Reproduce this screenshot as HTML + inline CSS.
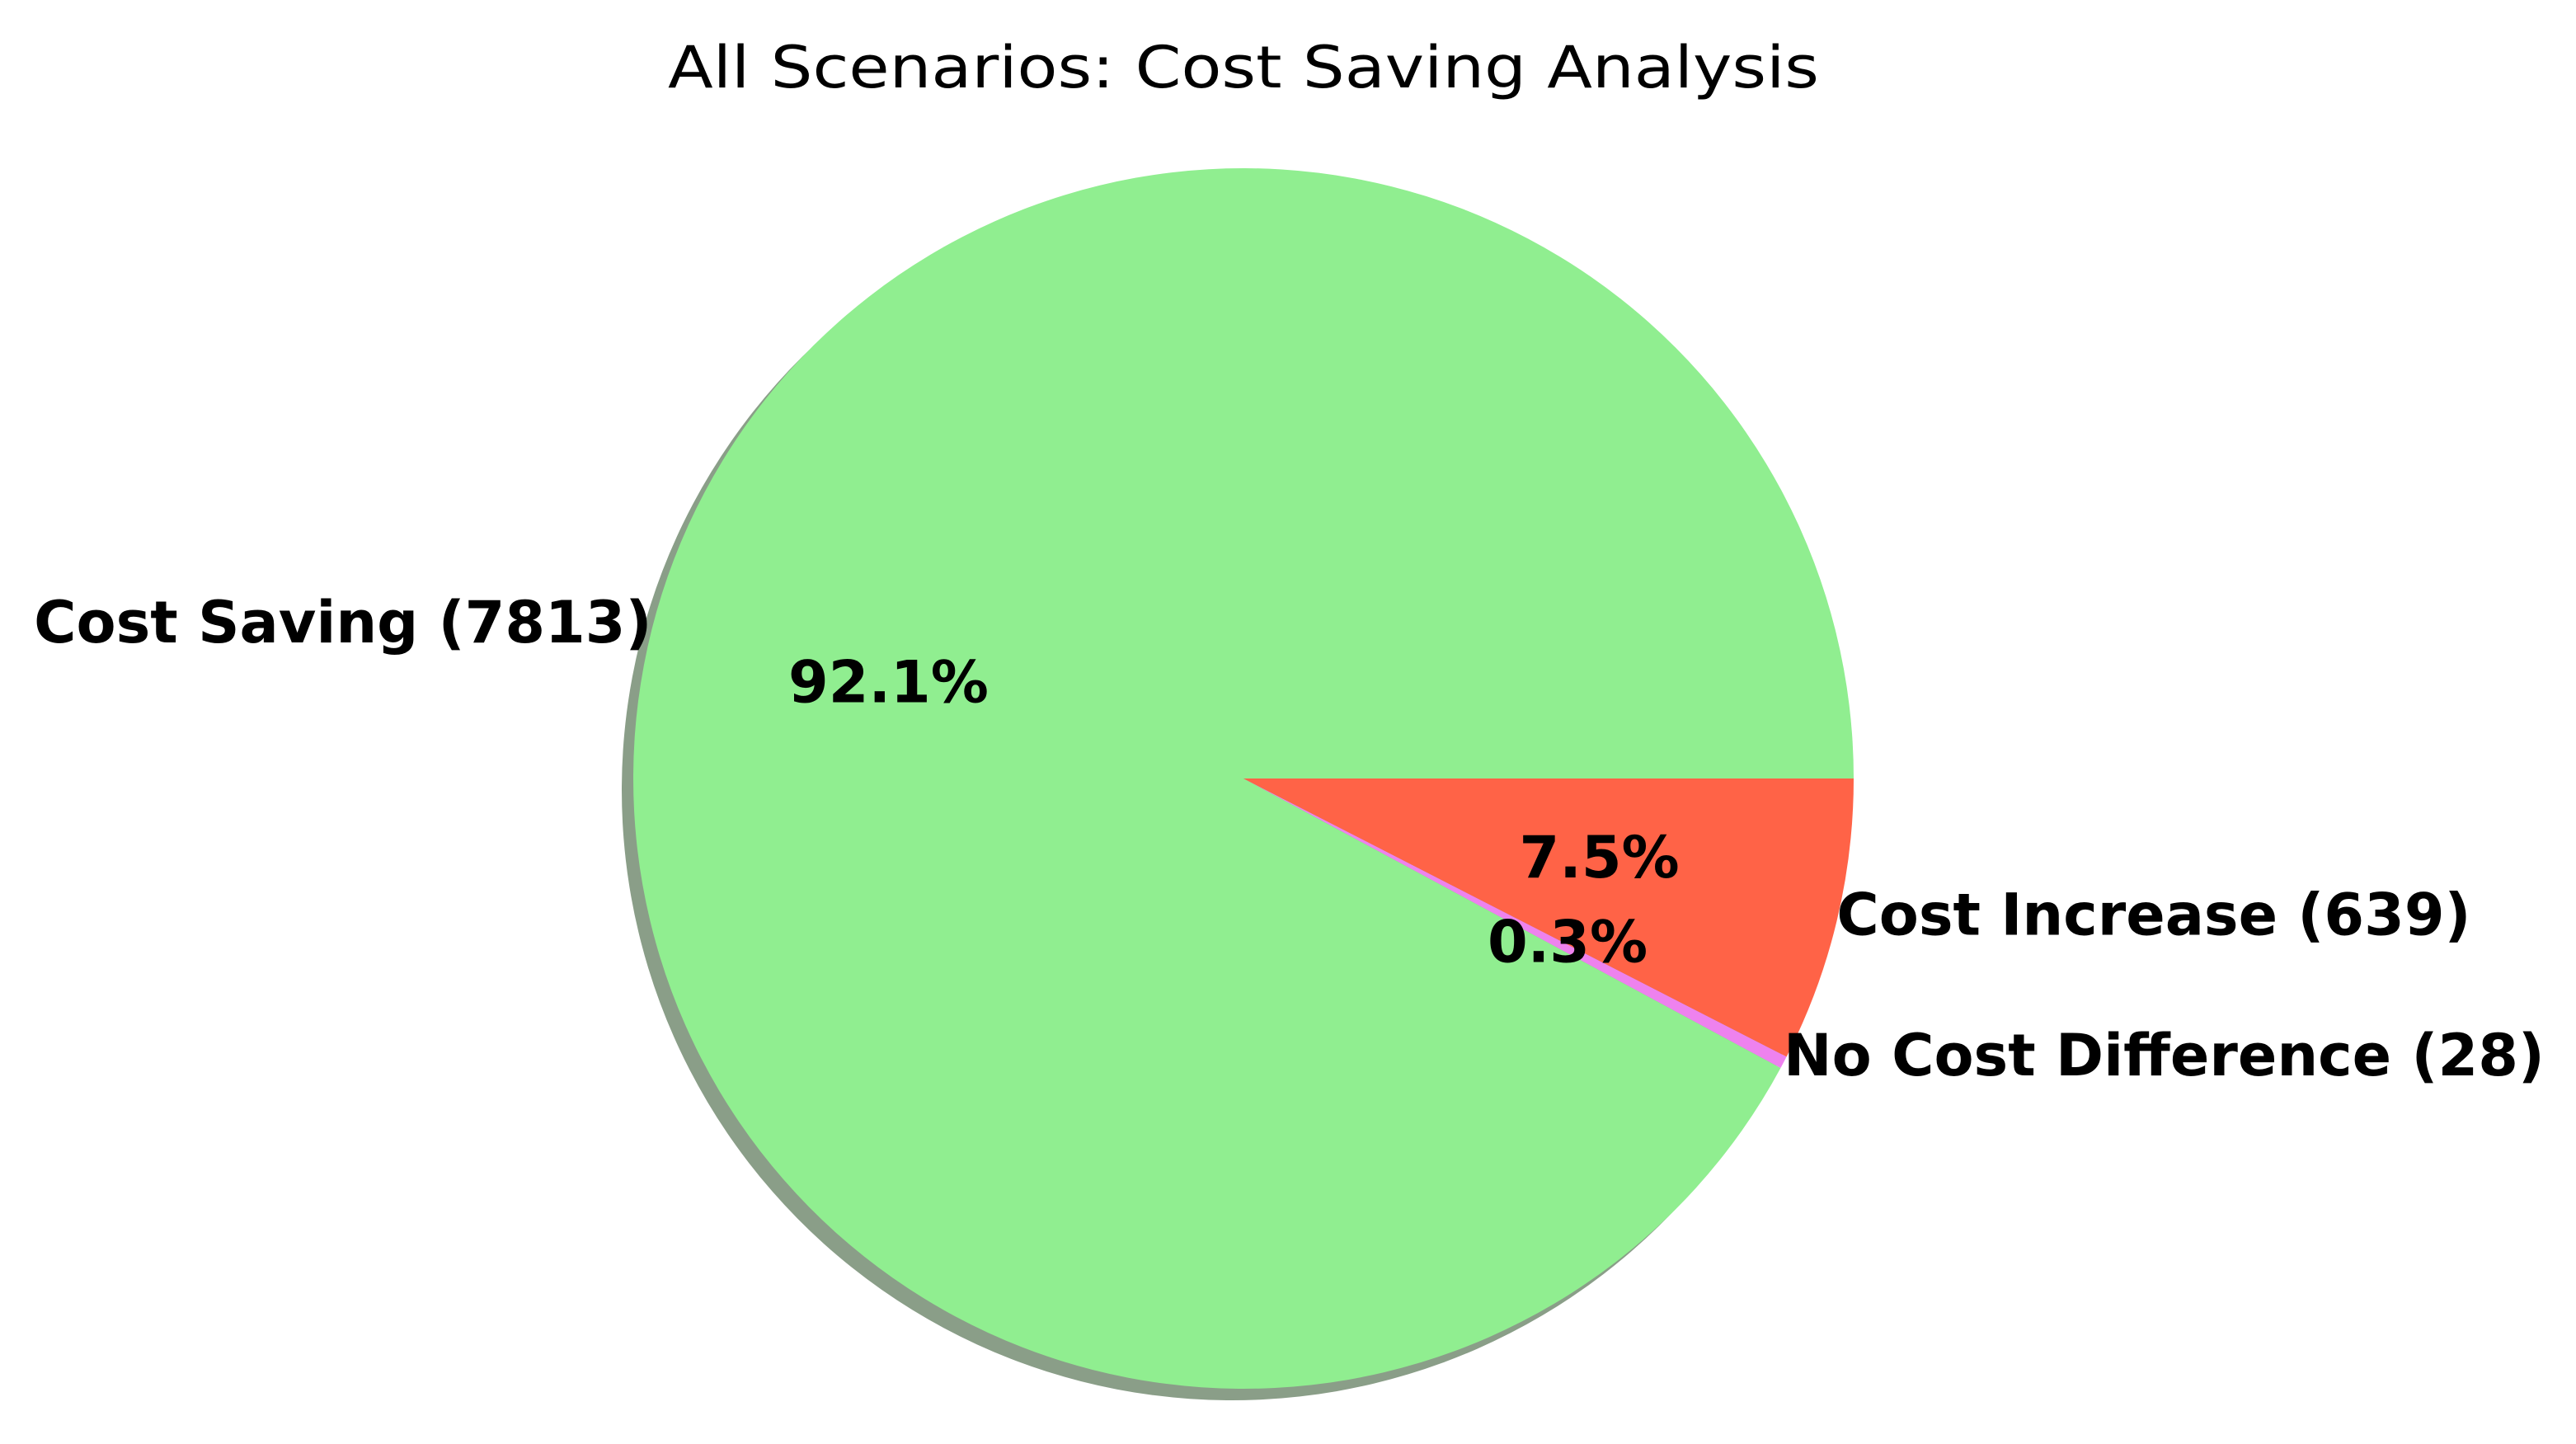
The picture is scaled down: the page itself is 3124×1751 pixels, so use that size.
<!DOCTYPE html>
<html><head><meta charset="utf-8">
<style>html,body{margin:0;padding:0;background:#fff;}svg{display:block;font-family:"DejaVu Sans","Liberation Sans",sans-serif;}</style>
</head><body>
<svg id="chart" width="3124" height="1751" viewBox="0 0 3124 1751" xmlns="http://www.w3.org/2000/svg">
<rect width="3124" height="1751" fill="#fff"/>
<text x="1508" y="106" text-anchor="middle" font-size="70" textLength="1396" lengthAdjust="spacingAndGlyphs" fill="#000">All Scenarios: Cost Saving Analysis</text>
<g id="shadow"></g><g id="slices"></g><g id="labels"></g>
</svg>
<script>
const categories = ["Cost Saving", "No Cost Difference", "Cost Increase"];
const counts = [7813, 28, 639];
const colors = ["#90ee90", "#ee82ee", "#ff6347"];
const slugs = ["cost-saving", "no-cost-difference", "cost-increase"];

const NS = "http://www.w3.org/2000/svg";
const cx = 1508, cy = 944, R = 740;
const total = counts.reduce((a, b) => a + b, 0);
const px = (a, r) => cx + r * Math.cos(a * Math.PI / 180);
const py = (a, r) => cy - r * Math.sin(a * Math.PI / 180);
function wedgePath(a0, a1, r, ox, oy) {
  const large = (a1 - a0) > 180 ? 1 : 0;
  return `M${cx+ox},${cy+oy} L${px(a0,r)+ox},${py(a0,r)+oy} A${r},${r} 0 ${large} 0 ${px(a1,r)+ox},${py(a1,r)+oy} Z`;
}
const sh = document.getElementById('shadow');
const sl = document.getElementById('slices');
const lb = document.getElementById('labels');
let start = 0;
counts.forEach((c, i) => {
  const sweep = c / total * 360;
  const a0 = start, a1 = start + sweep, mid = (a0 + a1) / 2;
  const s = document.createElementNS(NS, 'path');
  s.setAttribute('d', wedgePath(a0, a1, R, -14, 14));
  s.setAttribute('fill', '#8a9e88');
  
  
  sh.appendChild(s);
  const p = document.createElementNS(NS, 'path');
  p.setAttribute('d', wedgePath(a0, a1, R, 0, 0));
  p.setAttribute('fill', colors[i]);
  
  
  sl.appendChild(p);
  const lx = px(mid, R), ly = py(mid, R) - 8;
  const t = document.createElementNS(NS, 'text');
  t.setAttribute('x', lx); t.setAttribute('y', ly);
  t.setAttribute('text-anchor', Math.cos(mid*Math.PI/180) > 0 ? 'start' : 'end');
  t.setAttribute('dominant-baseline', 'central');
  t.setAttribute('font-size', '70'); t.setAttribute('font-weight', 'bold');
  t.textContent = categories[i] + ' (' + c + ')';
  
  
  lb.appendChild(t);
  const q = document.createElementNS(NS, 'text');
  q.setAttribute('x', px(mid, R*0.6)); q.setAttribute('y', py(mid, R*0.6) - 8);
  q.setAttribute('text-anchor', 'middle');
  q.setAttribute('dominant-baseline', 'central');
  q.setAttribute('font-size', '70'); q.setAttribute('font-weight', 'bold');
  q.textContent = (c / total * 100).toFixed(1) + '%';
  
  
  lb.appendChild(q);
  start = a1;
});
</script>
</body></html>
